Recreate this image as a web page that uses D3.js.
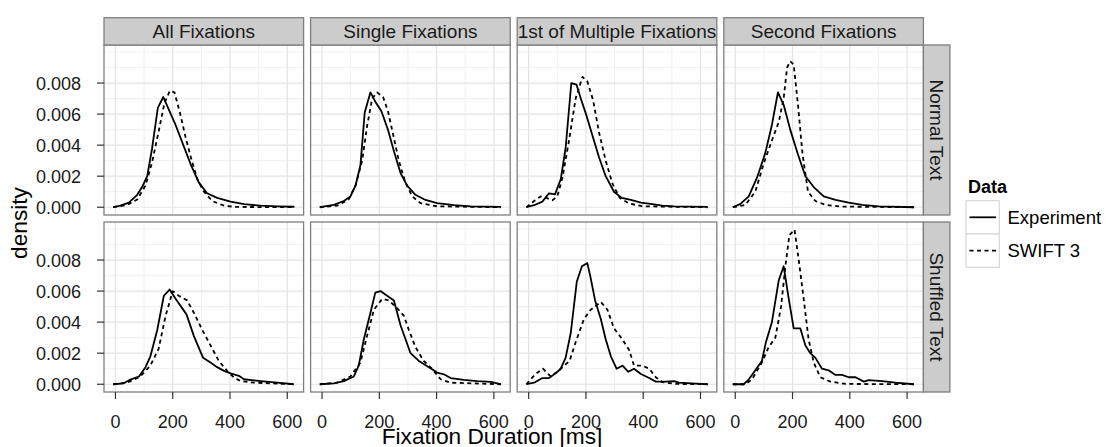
<!DOCTYPE html>
<html lang="en">
<head>
<meta charset="UTF-8">
<title>Fixation Duration Densities</title>
<script src="https://d3js.org/d3.v7.min.js"></script>
<style>
    body { margin: 0; background: #fff; }
    svg { display: block; font-family: "Liberation Sans", Arial, Helvetica, sans-serif; }
</style>
</head>
<body>
<div id="chart"></div>
<script>
    // facets, series and ticks
    const facetCols = ["All Fixations", "Single Fixations", "1st of Multiple Fixations", "Second Fixations"];
    const facetRows = ["Normal Text", "Shuffled Text"];
    const seriesNames = ["Experiment", "SWIFT 3"];
    const xTicks = [0, 200, 400, 600];
    const xMinor = [100, 300, 500];
    const yTicks = [0, 0.002, 0.004, 0.006, 0.008];
    const yMinor = [0.001, 0.003, 0.005, 0.007, 0.009, 0.010];

    // [duration ms, density]
    const expAllNormal = [[-8,0],[17,0.0001],[47,0.0003],[76,0.0008],[93,0.0013],[111,0.002],[128,0.0038],[148,0.0064],[167,0.0071],[186,0.0063],[210,0.0053],[235,0.0041],[262,0.0028],[291,0.0016],[320,0.0009],[355,0.0006],[402,0.00036],[449,0.0002],[507,0.0001],[565,0.00006],[625,0.00003]];
    const swiftAllNormal = [[-8,0],[41,0.00015],[76,0.0005],[105,0.0014],[128,0.0029],[151,0.0049],[171,0.0067],[190,0.0075],[206,0.0074],[225,0.0061],[245,0.0045],[265,0.0031],[286,0.0018],[309,0.001],[338,0.0004],[379,0.0001],[420,0.00002],[625,0]];
    const expSingleNormal = [[-8,0],[41,0.00015],[76,0.0004],[99,0.0007],[117,0.0014],[134,0.0027],[149,0.0061],[169,0.0074],[186,0.0068],[207,0.0062],[230,0.005],[251,0.0036],[274,0.0022],[297,0.0014],[326,0.0008],[361,0.00047],[402,0.00026],[460,0.00013],[519,0.00006],[625,0.00002]];
    const swiftSingleNormal = [[-8,0],[52,0.0001],[93,0.0005],[117,0.0014],[140,0.003],[157,0.0052],[175,0.007],[192,0.0074],[213,0.0071],[230,0.0062],[248,0.0047],[268,0.003],[291,0.0016],[315,0.0007],[344,0.00026],[402,0.00006],[625,0]];
    const expMultiNormal = [[-8,0],[19,0.00013],[48,0.00036],[71,0.0009],[92,0.00083],[112,0.0018],[129,0.0038],[149,0.008],[167,0.0079],[182,0.007],[202,0.0059],[223,0.0046],[246,0.0032],[269,0.002],[298,0.001],[325,0.0006],[357,0.00047],[392,0.0003],[432,0.0002],[467,0.0001],[508,0.00006],[625,0.00002]];
    const swiftMultiNormal = [[-8,0],[19,0.0004],[42,0.0007],[62,0.0006],[83,0.00045],[100,0.0007],[118,0.0019],[141,0.0043],[164,0.007],[188,0.0084],[205,0.0081],[225,0.0069],[246,0.0048],[269,0.003],[293,0.0015],[318,0.0006],[351,0.00024],[397,0.00006],[625,0]];
    const expSecondNormal = [[-9,0],[17,0.0002],[47,0.0007],[76,0.0019],[105,0.0035],[128,0.0053],[149,0.0074],[169,0.0066],[192,0.005],[219,0.0034],[245,0.002],[274,0.0013],[309,0.0007],[350,0.00047],[396,0.0003],[443,0.00015],[501,0.00006],[624,0]];
    const swiftSecondNormal = [[-8,0],[35,0.00015],[70,0.001],[99,0.0028],[128,0.0043],[152,0.0055],[169,0.007],[181,0.009],[192,0.0094],[204,0.0092],[219,0.0066],[235,0.0034],[254,0.001],[280,0.0004],[315,0.00015],[373,0.00004],[625,0]];

    const expAllShuffled = [[-8,0],[29,0.00006],[52,0.0003],[82,0.0005],[105,0.0011],[122,0.0018],[146,0.0035],[169,0.0057],[189,0.0061],[210,0.0055],[248,0.0045],[274,0.0031],[306,0.0017],[332,0.0014],[355,0.0011],[379,0.00086],[402,0.0007],[431,0.00054],[449,0.00032],[507,0.0002],[565,0.0001],[623,0]];
    const swiftAllShuffled = [[-8,0],[41,0.0001],[87,0.0005],[122,0.0012],[151,0.0023],[175,0.0044],[200,0.006],[221,0.0057],[250,0.0054],[274,0.0046],[303,0.0035],[332,0.0025],[361,0.0015],[390,0.00086],[414,0.00043],[437,0.0002],[484,0.0001],[620,0]];
    const expSingleShuffled = [[-8,0],[41,0.00006],[76,0.0002],[111,0.0005],[128,0.0012],[146,0.0029],[169,0.0046],[186,0.0059],[204,0.006],[227,0.0057],[251,0.0054],[274,0.0038],[309,0.002],[338,0.0015],[373,0.0011],[402,0.00075],[425,0.00064],[449,0.0004],[495,0.00028],[542,0.0002],[589,0.00015],[624,0]];
    const swiftSingleShuffled = [[-8,0],[52,0.0001],[99,0.0005],[134,0.0014],[157,0.0031],[181,0.0048],[210,0.0055],[233,0.0054],[262,0.0049],[286,0.0044],[303,0.0035],[326,0.0024],[355,0.0015],[384,0.001],[414,0.00032],[449,0.0001],[625,0]];
    const expMultiShuffled = [[-8,0],[19,0.0001],[48,0.0004],[71,0.0004],[94,0.0007],[112,0.001],[129,0.0017],[147,0.0033],[168,0.0066],[186,0.0076],[205,0.0078],[217,0.0068],[232,0.0054],[252,0.0042],[269,0.0029],[287,0.0018],[307,0.001],[328,0.0012],[348,0.0008],[368,0.001],[392,0.00066],[421,0.0004],[444,0.00017],[479,0.00017],[508,0.0002],[525,0.0001],[584,0.00004],[625,0]];
    const swiftMultiShuffled = [[-8,0],[24,0.00066],[50,0.001],[77,0.0005],[100,0.0008],[124,0.0012],[143,0.0015],[164,0.0027],[193,0.0042],[217,0.0048],[252,0.0053],[275,0.0048],[298,0.0036],[327,0.0029],[351,0.0022],[368,0.0012],[397,0.0012],[421,0.001],[444,0.00045],[467,0.00013],[514,0.00002],[625,0]];
    const expSecondShuffled = [[-9,0],[29,0],[47,0.0003],[70,0.0009],[93,0.0015],[107,0.0027],[128,0.004],[152,0.0067],[169,0.0076],[186,0.0056],[204,0.0036],[227,0.0036],[245,0.0025],[262,0.002],[280,0.0017],[303,0.001],[326,0.0009],[350,0.0006],[373,0.0006],[396,0.00045],[420,0.00045],[449,0.00017],[466,0.00026],[513,0.0002],[559,0.0001],[624,0]];
    const swiftSecondShuffled = [[-8,0],[35,0],[58,0.0003],[93,0.0014],[117,0.0024],[140,0.003],[160,0.005],[175,0.0076],[189,0.0096],[207,0.00995],[221,0.0081],[239,0.0055],[256,0.0029],[274,0.0014],[297,0.00045],[332,0.00017],[385,0.00002],[625,0]];

    const panelData = [
        [[expAllNormal, swiftAllNormal], [expSingleNormal, swiftSingleNormal], [expMultiNormal, swiftMultiNormal], [expSecondNormal, swiftSecondNormal]],
        [[expAllShuffled, swiftAllShuffled], [expSingleShuffled, swiftSingleShuffled], [expMultiShuffled, swiftMultiShuffled], [expSecondShuffled, swiftSecondShuffled]]
    ];

    // layout
    const width = 1106, height = 447;
    const plotLeft = 104, plotTop = 45, pw = 199.6, ph = 170, gap = 7;
    const stripH = 27.3, stripW = 26.5;
    const dashes = [null, "4,3.5"];

    const svg = d3.select("#chart").append("svg")
        .attr("width", width).attr("height", height);

    const x = d3.scaleLinear().domain([-40, 657]).range([0, pw]);
    const y = d3.scaleLinear().domain([-0.0005, 0.01045]).range([ph, 0]);

    const line = d3.line().x(d => x(d[0])).y(d => y(d[1]));

    facetRows.forEach((rowName, r) => {
        facetCols.forEach((colName, c) => {
            const px = plotLeft + c * (pw + gap), py = plotTop + r * (ph + gap);
            const g = svg.append("g").attr("transform", `translate(${px},${py})`);

            // grid
            g.selectAll(".xminor").data(xMinor).enter().append("line")
                .attr("x1", d => x(d)).attr("x2", d => x(d)).attr("y1", 0).attr("y2", ph)
                .attr("stroke", "#f2f2f2").attr("stroke-width", 1.2);
            g.selectAll(".yminor").data(yMinor).enter().append("line")
                .attr("y1", d => y(d)).attr("y2", d => y(d)).attr("x1", 0).attr("x2", pw)
                .attr("stroke", "#f2f2f2").attr("stroke-width", 1.2);
            g.selectAll(".xmajor").data(xTicks).enter().append("line")
                .attr("x1", d => x(d)).attr("x2", d => x(d)).attr("y1", 0).attr("y2", ph)
                .attr("stroke", "#e3e3e3").attr("stroke-width", 1.2);
            g.selectAll(".ymajor").data(yTicks).enter().append("line")
                .attr("y1", d => y(d)).attr("y2", d => y(d)).attr("x1", 0).attr("x2", pw)
                .attr("stroke", "#e3e3e3").attr("stroke-width", 1.2);

            // curves
            panelData[r][c].forEach((series, s) => {
                g.append("path")
                    .datum(series)
                    .attr("d", line)
                    .attr("fill", "none")
                    .attr("stroke", "#000")
                    .attr("stroke-width", 1.8)
                    .attr("stroke-linejoin", "round")
                    .attr("stroke-dasharray", dashes[s]);
            });

            g.append("rect").attr("width", pw).attr("height", ph)
                .attr("fill", "none").attr("stroke", "#7f7f7f").attr("stroke-width", 1.3);

            // top strips
            if (r === 0) {
                const sg = svg.append("g").attr("transform", `translate(${px},${plotTop - stripH})`);
                sg.append("rect").attr("width", pw).attr("height", stripH)
                    .attr("fill", "#cccccc").attr("stroke", "#7f7f7f").attr("stroke-width", 1.3);
                sg.append("text").attr("x", pw / 2).attr("y", stripH / 2 + 6.5)
                    .attr("text-anchor", "middle").attr("font-size", 19).attr("fill", "#1a1a1a")
                    .text(colName);
            }

            // right strips
            if (c === facetCols.length - 1) {
                const rg = svg.append("g").attr("transform", `translate(${px + pw},${py})`);
                rg.append("rect").attr("width", stripW).attr("height", ph)
                    .attr("fill", "#cccccc").attr("stroke", "#7f7f7f").attr("stroke-width", 1.3);
                rg.append("text")
                    .attr("transform", `translate(${stripW / 2 - 6.5},${ph / 2}) rotate(90)`)
                    .attr("text-anchor", "middle").attr("font-size", 19).attr("fill", "#1a1a1a")
                    .text(rowName);
            }

            // y axis on first column
            if (c === 0) {
                const ya = g.append("g");
                ya.selectAll("line").data(yTicks).enter().append("line")
                    .attr("x1", -7).attr("x2", 0).attr("y1", d => y(d)).attr("y2", d => y(d))
                    .attr("stroke", "#333").attr("stroke-width", 1.2);
                ya.selectAll("text").data(yTicks).enter().append("text")
                    .attr("x", -23).attr("y", d => y(d) + 6.5)
                    .attr("text-anchor", "end").attr("font-size", 18).attr("fill", "#1a1a1a")
                    .text(d => d3.format(".3f")(d));
            }

            // x axis on bottom row
            if (r === facetRows.length - 1) {
                const xa = g.append("g").attr("transform", `translate(0,${ph})`);
                xa.selectAll("line").data(xTicks).enter().append("line")
                    .attr("x1", d => x(d)).attr("x2", d => x(d)).attr("y1", 0).attr("y2", 7)
                    .attr("stroke", "#333").attr("stroke-width", 1.2);
                xa.selectAll("text").data(xTicks).enter().append("text")
                    .attr("x", d => x(d)).attr("y", 36)
                    .attr("text-anchor", "middle").attr("font-size", 18).attr("fill", "#1a1a1a")
                    .text(d => d);
            }
        });
    });

    // axis titles
    svg.append("text").attr("x", 492).attr("y", 444)
        .attr("text-anchor", "middle").attr("font-size", 22.7).attr("fill", "#000")
        .text("Fixation Duration [ms]");
    svg.append("text").attr("transform", "translate(27,223) rotate(-90)")
        .attr("text-anchor", "middle").attr("font-size", 22.7).attr("fill", "#000")
        .text("density");

    // legend
    const lg = svg.append("g").attr("transform", "translate(966,0)");
    lg.append("text").attr("x", 2).attr("y", 193)
        .attr("font-size", 18).attr("font-weight", "bold").attr("fill", "#000")
        .text("Data");
    seriesNames.forEach((name, i) => {
        const ky = 200.7 + i * 33.3;
        lg.append("rect").attr("x", 0).attr("y", ky).attr("width", 33.3).attr("height", 33.3)
            .attr("fill", "#fff").attr("stroke", "#d6d6d6").attr("stroke-width", 1.2);
        lg.append("line").attr("x1", 3.5).attr("x2", 30).attr("y1", ky + 16.6).attr("y2", ky + 16.6)
            .attr("stroke", "#000").attr("stroke-width", 1.8).attr("stroke-dasharray", dashes[i]);
        lg.append("text").attr("x", 41.5).attr("y", ky + 16.6 + 6.5)
            .attr("font-size", 18.5).attr("fill", "#000")
            .text(name);
    });
</script>
</body>
</html>
